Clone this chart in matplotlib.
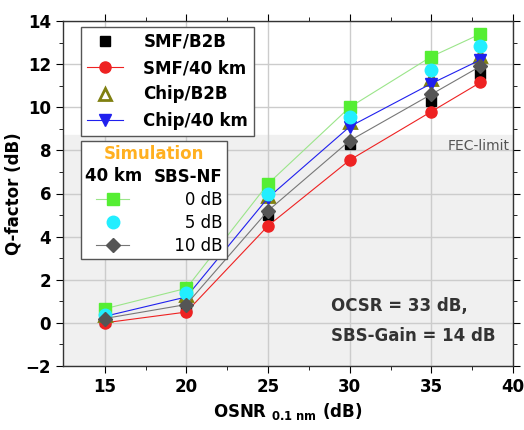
import numpy as np
import matplotlib
matplotlib.use("Agg")
import matplotlib.pyplot as plt
from matplotlib.legend_handler import HandlerBase, HandlerLine2D
from matplotlib.lines import Line2D
from matplotlib.text import Text

# ---- data ----
osnr = [15, 20, 25, 30, 35, 38]

smf_b2b = [0.1, 0.75, 5.0, 8.3, 10.3, 11.55]
smf_40km = [0.0, 0.5, 4.5, 7.55, 9.8, 11.15]
chip_b2b = [0.35, 1.3, 5.9, 9.3, 11.3, 12.4]
chip_40km = [0.3, 1.2, 5.8, 9.1, 11.1, 12.2]

sim_0db = [0.65, 1.6, 6.45, 10.0, 12.35, 13.4]
sim_5db = [0.35, 1.4, 6.0, 9.55, 11.75, 12.85]
sim_10db = [0.2, 0.85, 5.2, 8.45, 10.6, 11.9]

fec_limit = 8.7


# legend row whose "handle" is just a bold word (the "40 km" column header)
class TextHandle:
    def __init__(self, s):
        self.s = s


class HandlerText(HandlerBase):
    def create_artists(self, legend, orig_handle, xdescent, ydescent,
                       width, height, fontsize, trans):
        t = Text(-xdescent, -ydescent + height / 2, orig_handle.s, ha='left', va='center',
                 fontsize=fontsize, fontweight='bold', transform=trans)
        return [t]


# shorter line sample than the handle box is wide
class ShortLine(HandlerLine2D):
    def get_xdata(self, legend, xdescent, ydescent, width, height, fontsize):
        c = -xdescent + width / 2
        half = 1.0 * fontsize
        return np.array([c - half, c + half]), np.array([c])


plt.rcParams['font.family'] = ['DejaVu Sans']

fig = plt.figure(figsize=(5.24, 4.3), dpi=100)
ax = fig.add_axes([0.120, 0.149, 0.859, 0.802])

ax.axhspan(-2, fec_limit, color='#f0f0f0', zorder=0)
ax.text(39.8, fec_limit - 0.15, 'FEC-limit', ha='right', va='top',
        fontsize=10, color='#555555', zorder=1)

lw = 0.8
# measured
h_smf_b2b, = ax.plot(osnr, smf_b2b, 's', color='black', ms=7, ls='none', zorder=3)
h_smf_40, = ax.plot(osnr, smf_40km, 'o-', color='#ee2222', mfc='#ee2222', mec='#ee2222',
                    ms=8, lw=lw, zorder=3)
h_chip_b2b, = ax.plot(osnr, chip_b2b, '^', mfc='none', mec='#808010', mew=2, ms=8,
                      ls='none', zorder=3)
h_chip_40, = ax.plot(osnr, chip_40km, 'v-', color='#2020ee', ms=8, lw=lw, zorder=3)
# simulation
h_sim0, = ax.plot(osnr, sim_0db, 's-', color='#9be58a', mfc='#55ee33', mec='#55ee33',
                  ms=8, lw=lw, zorder=4)
h_sim5, = ax.plot(osnr, sim_5db, 'o', color='#22eeff', ms=9, ls='none', zorder=4)
h_sim10, = ax.plot(osnr, sim_10db, 'D-', color='#777777', mfc='#555555', mec='#555555',
                   ms=7, lw=lw, zorder=4)

ax.set_xlim(12.44, 40)
ax.set_ylim(-2, 14)
ax.set_xticks([15, 20, 25, 30, 35, 40])
ax.set_yticks(np.arange(-2, 15, 2))
ax.set_xticks(np.arange(17.5, 40, 5), minor=True)
ax.set_yticks(np.arange(-1, 14, 2), minor=True)
ax.grid(True, which='major', color='#cccccc', lw=1, zorder=0)
ax.set_axisbelow(True)
ax.tick_params(which='both', direction='out', top=True, right=True, labelsize=12)
ax.tick_params(which='major', length=5)
ax.tick_params(which='minor', length=3)
for lab in ax.get_xticklabels() + ax.get_yticklabels():
    lab.set_fontweight('bold')
for sp in ax.spines.values():
    sp.set_color('#333333')
    sp.set_linewidth(1)

ax.set_xlabel(r'OSNR $_{\bf 0.1\ nm}$ (dB)', fontsize=12, fontweight='bold')
ax.set_ylabel('Q-factor (dB)', fontsize=12, fontweight='bold', labelpad=2)

ax.text(0.596, 0.13, 'OCSR = 33 dB,\nSBS-Gain = 14 dB', transform=ax.transAxes,
        ha='left', va='center', fontsize=12, fontweight='bold', color='#333333',
        linespacing=1.9, zorder=5)

# legend 1: measurements
leg1 = ax.legend([h_smf_b2b, h_smf_40, h_chip_b2b, h_chip_40],
                 ['SMF/B2B', 'SMF/40 km', 'Chip/B2B', 'Chip/40 km'],
                 loc='upper left', bbox_to_anchor=(0.04, 0.983), fancybox=False,
                 edgecolor='#555555', framealpha=1, borderaxespad=0,
                 prop={'size': 12, 'weight': 'bold'}, handlelength=2.2,
                 labelspacing=0.5, handletextpad=1.2, borderpad=0.35)
leg1.get_frame().set_linewidth(1)
ax.add_artist(leg1)

# legend 2: simulation
F = '\u2007'
header = TextHandle('40 km')
leg2 = ax.legend([header, h_sim0, h_sim5, h_sim10],
                 ['SBS-NF', F * 3 + '0 dB', F * 3 + '5 dB', F * 2 + '10 dB'],
                 handler_map={TextHandle: HandlerText(), Line2D: ShortLine()},
                 title='Simulation', title_fontproperties={'size': 12, 'weight': 'bold'},
                 loc='upper left', bbox_to_anchor=(0.04, 0.652), fancybox=False,
                 edgecolor='#555555', framealpha=1, borderaxespad=0,
                 prop={'size': 12}, handlelength=3.3, labelspacing=0.3,
                 handletextpad=0.8, borderpad=0.25)
leg2.get_title().set_color('#ffb020')
leg2.get_texts()[0].set_fontweight('bold')
leg2.get_frame().set_linewidth(1)
leg2.set_zorder(6)

fig.savefig('out.png', dpi=100)
